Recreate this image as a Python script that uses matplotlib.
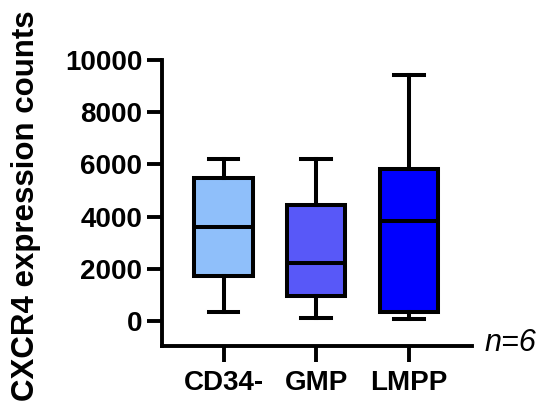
import matplotlib
matplotlib.use("Agg")
import matplotlib.pyplot as plt

plt.rcParams['font.family'] = ['Liberation Sans', 'DejaVu Sans']

categories = ["CD34-", "GMP", "LMPP"]
whisker_low = [360, 100, 60]
q1 = [1710, 960, 350]
median = [3590, 2210, 3840]
q3 = [5470, 4440, 5840]
whisker_high = [6200, 6200, 9440]
colors = ["#8FBFFA", "#5858F8", "#0000FF"]
yticks = [0, 2000, 4000, 6000, 8000, 10000]

stats = []
for i, c in enumerate(categories):
    stats.append(dict(label=c, whislo=whisker_low[i], q1=q1[i], med=median[i],
                      q3=q3[i], whishi=whisker_high[i], fliers=[]))

fig = plt.figure(figsize=(5.46, 4.08), dpi=100)
ax = fig.add_axes([0.296, 0.152, 0.568, 0.701])

lw = 2.9
bp = ax.bxp(stats, positions=[1, 2, 3], widths=0.63, patch_artist=True,
            showfliers=False,
            boxprops=dict(linewidth=lw, edgecolor='black'),
            medianprops=dict(linewidth=lw, color='black'),
            whiskerprops=dict(linewidth=lw, color='black'),
            capprops=dict(linewidth=lw, color='black'),
            capwidths=0.32)
for patch, col in zip(bp['boxes'], colors):
    patch.set_facecolor(col)

ax.set_xlim(0.33, 3.68)
ax.set_ylim(-960, 10000)
ax.set_yticks(yticks)
ax.set_yticklabels([str(v) for v in yticks], fontsize=20, fontweight='bold')
ax.set_xticks([1, 2, 3])
ax.set_xticklabels(categories, fontsize=20, fontweight='bold')
for s in ['top', 'right']:
    ax.spines[s].set_visible(False)
for s in ['left', 'bottom']:
    ax.spines[s].set_linewidth(2.8)
ax.tick_params(axis='y', length=11, width=2.8, pad=3)
ax.tick_params(axis='x', length=11.5, width=2.8, pad=6)
ax.set_ylabel("CXCR4 expression counts", fontsize=22.5, fontweight='bold')
ax.yaxis.set_label_coords(-0.39, 0.49)
ax.text(1.04, 0.01, "n=6", transform=ax.transAxes, fontsize=22, style='italic',
        ha='left', va='center')

fig.savefig("out.png", dpi=100)
